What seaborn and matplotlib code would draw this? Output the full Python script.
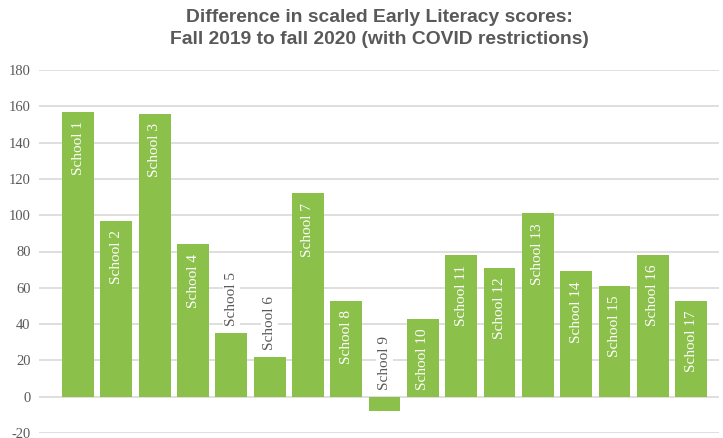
import matplotlib
matplotlib.use("Agg")
import matplotlib.pyplot as plt
import seaborn as sns
import pandas as pd

categories = [f"School {i}" for i in range(1, 18)]
values = [157, 97, 156, 84, 35, 22, 112, 53, -8, 43, 78, 71, 101, 69, 61, 78, 53]
yticks = [-20, 0, 20, 40, 60, 80, 100, 120, 140, 160, 180]
title = "Difference in scaled Early Literacy scores:\nFall 2019 to fall 2020 (with COVID restrictions)"

df = pd.DataFrame({"school": categories, "value": values})

sns.set_style("white")
plt.rcParams["font.family"] = ["Liberation Serif", "DejaVu Sans"]

W, H = 723, 438
fig = plt.figure(figsize=(W / 100, H / 100), dpi=100)
ax = fig.add_axes([39 / W, (H - 433) / H, (719 - 39) / W, (433 - 70) / H])

green = "#8BC04A"
grey = "#595959"
sns.barplot(data=df, x="school", y="value", color=green, width=0.83,
            saturation=1, ax=ax, zorder=2, linewidth=0, edgecolor="none")

ax.set_ylim(-20, 180)
ax.set_xlim(-1.02, 16.73)
ax.set_yticks(yticks)
ax.set_yticklabels([str(t) for t in yticks], fontsize=10.5, color=grey)
ax.tick_params(axis="y", length=0, pad=6)
ax.tick_params(axis="x", length=0)
ax.set_xticklabels([])
ax.set_xlabel("")
ax.set_ylabel("")
ax.set_axisbelow(True)
ax.yaxis.grid(True, color="#d9d9d9", linewidth=1.2)
ax.xaxis.grid(False)
for s in ax.spines.values():
    s.set_visible(False)

for i, (name, v) in enumerate(zip(categories, values)):
    if v >= 40:
        ax.annotate(name, (i, v), xytext=(0, -7), textcoords="offset points",
                    rotation=90, ha="center", va="top", color="white",
                    fontsize=11, zorder=4)
    else:
        base = max(v, 0)
        ax.annotate(name, (i, base), xytext=(0, 5), textcoords="offset points",
                    rotation=90, ha="center", va="bottom", color=grey,
                    fontsize=11, zorder=4,
                    bbox=dict(boxstyle="square,pad=0.15", fc="white", ec="none"))

fig.text(379 / W, 1 - 9 / H, title, ha="center", va="top",
         fontsize=13.9, fontweight="bold", color=grey,
         family=["Liberation Sans", "DejaVu Sans"], linespacing=1.4)

fig.savefig("out.png", dpi=100)
